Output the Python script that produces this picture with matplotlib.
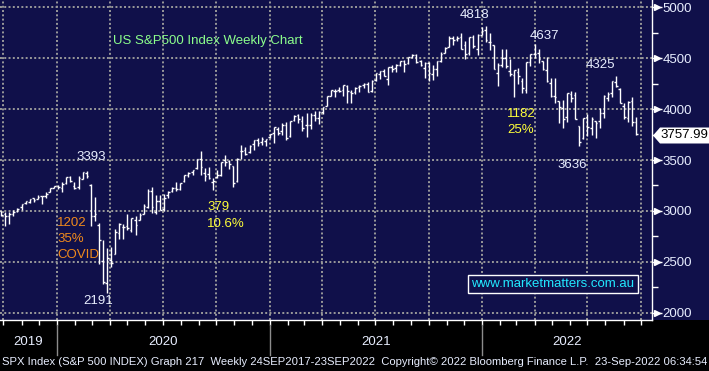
import numpy as np
import pandas as pd
import matplotlib
matplotlib.use("Agg")
import matplotlib.pyplot as plt
import matplotlib.dates as mdates
from matplotlib.patches import Rectangle, Polygon
from matplotlib.transforms import blended_transform_factory, offset_copy
from matplotlib.ticker import MultipleLocator

# weekly bars (Friday week ends), S&P 500
weeks = pd.date_range("2019-09-27", "2022-09-23", freq="W-FRI")
opens = [2996, 2967, 2952, 2970, 2997, 3036, 3079, 3087, 3123, 3117, 3143, 3142, 3183, 3227,
         3247, 3226, 3271, 3334, 3248, 3235, 3318, 3370, 3257, 2954, 2863, 2509, 2290, 2514,
         2578, 2782, 2846, 2855, 2816, 2915, 2913, 2969, 3038, 3199, 2994, 3095, 3018, 3155,
         3191, 3224, 3219, 3289, 3357, 3380, 3419, 3507, 3371, 3363, 3285, 3334, 3350, 3500,
         3493, 3441, 3296, 3584, 3600, 3579, 3654, 3699, 3675, 3684, 3723,
         3764, 3803, 3782, 3842, 3732, 3892, 3939, 3885, 3843, 3844, 3943, 3916, 3970, 4034,
         4124, 4179, 4185, 4192, 4228, 4169, 4168, 4217, 4232, 4248, 4174, 4284, 4344, 4372,
         4296, 4410, 4406, 4437, 4477, 4450, 4513, 4536, 4474, 4403, 4450, 4348, 4391, 4471,
         4553, 4610, 4701, 4689, 4712, 4628, 4548, 4710, 4587, 4733,
         4778, 4656, 4632, 4357, 4432, 4505, 4377, 4333, 4363, 4276, 4188, 4462, 4541, 4547,
         4474, 4385, 4253, 4130, 4082, 4013, 3927, 4151, 4135, 3838, 3715, 3920, 3815, 3880,
         3883, 3965, 4113, 4155, 4270, 4195, 4034, 3909, 4084, 3870]
highs = [3002, 2992, 2993, 3009, 3027, 3066, 3098, 3121, 3128, 3154, 3150, 3182, 3226, 3248,
         3258, 3282, 3330, 3338, 3285, 3342, 3385, 3394, 3260, 3137, 2883, 2711, 2637, 2641,
         2818, 2879, 2868, 2965, 2933, 2945, 2981, 3068, 3211, 3233, 3156, 3155, 3165, 3198,
         3238, 3280, 3272, 3352, 3387, 3399, 3509, 3588, 3425, 3429, 3320, 3397, 3483, 3550,
         3502, 3441, 3521, 3646, 3628, 3645, 3699, 3712, 3727, 3711, 3760,
         3827, 3823, 3861, 3870, 3887, 3938, 3950, 3928, 3961, 3960, 3983, 3979, 4018, 4130,
         4191, 4195, 4218, 4238, 4236, 4188, 4219, 4234, 4255, 4262, 4287, 4356, 4372, 4393,
         4415, 4429, 4440, 4469, 4480, 4511, 4546, 4537, 4486, 4466, 4466, 4429, 4475, 4559,
         4608, 4718, 4714, 4718, 4744, 4673, 4713, 4731, 4740, 4808,
         4819, 4749, 4632, 4454, 4595, 4590, 4490, 4385, 4402, 4302, 4465, 4546, 4637, 4593,
         4474, 4513, 4308, 4307, 4082, 4090, 4158, 4178, 4169, 3838, 3912, 3951, 3918, 3880,
         4013, 4140, 4167, 4281, 4325, 4204, 4062, 4076, 4120, 3921]
lows = [2946, 2856, 2874, 2952, 2991, 3005, 3066, 3079, 3091, 3113, 3070, 3124, 3183, 3222,
        3213, 3181, 3264, 3280, 3214, 3214, 3316, 3328, 2856, 2902, 2479, 2281, 2192, 2448,
        2578, 2721, 2727, 2815, 2797, 2767, 2910, 2969, 3032, 2984, 2965, 3004, 3001, 3128,
        3184, 3200, 3204, 3284, 3335, 3354, 3411, 3350, 3294, 3314, 3209, 3323, 3345, 3441,
        3413, 3234, 3279, 3512, 3551, 3570, 3594, 3633, 3648, 3636, 3716,
        3663, 3750, 3750, 3694, 3725, 3885, 3866, 3789, 3723, 3802, 3886, 3853, 3955, 4034,
        4124, 4118, 4164, 4129, 4057, 4061, 4150, 4168, 4210, 4165, 4165, 4272, 4300, 4321,
        4233, 4360, 4367, 4423, 4368, 4443, 4507, 4457, 4421, 4306, 4278, 4289, 4322, 4465,
        4552, 4606, 4630, 4672, 4586, 4495, 4531, 4600, 4531, 4733,
        4662, 4582, 4395, 4223, 4415, 4401, 4329, 4115, 4250, 4157, 4161, 4425, 4507, 4451,
        4381, 4267, 4115, 4062, 3859, 3810, 3875, 4074, 3900, 3637, 3705, 3738, 3742, 3721,
        3818, 3913, 4080, 4115, 4219, 4057, 3907, 3873, 3837, 3750]
closes = [2962, 2952, 2970, 2986, 3023, 3067, 3093, 3120, 3110, 3141, 3146, 3169, 3221, 3240,
          3235, 3265, 3330, 3295, 3226, 3328, 3380, 3338, 2954, 2972, 2711, 2305, 2541, 2489,
          2790, 2875, 2837, 2831, 2930, 2864, 2955, 3044, 3194, 3041, 3098, 3009, 3130, 3185,
          3225, 3216, 3271, 3351, 3373, 3397, 3508, 3427, 3341, 3320, 3298, 3348, 3477, 3483,
          3465, 3270, 3509, 3585, 3557, 3638, 3699, 3663, 3709, 3703, 3756,
          3825, 3768, 3841, 3714, 3887, 3935, 3907, 3811, 3842, 3943, 3913, 3975, 4020, 4129,
          4185, 4180, 4181, 4233, 4174, 4156, 4204, 4230, 4247, 4166, 4281, 4352, 4370, 4327,
          4412, 4395, 4437, 4468, 4442, 4509, 4535, 4459, 4433, 4455, 4357, 4391, 4471, 4545,
          4605, 4698, 4683, 4698, 4595, 4538, 4712, 4621, 4726, 4766,
          4677, 4663, 4398, 4432, 4501, 4419, 4349, 4385, 4329, 4204, 4463, 4543, 4546, 4488,
          4393, 4272, 4132, 4123, 4024, 3901, 4158, 4109, 3901, 3675, 3912, 3825, 3899, 3863,
          3962, 4130, 4145, 4280, 4228, 4058, 3924, 4067, 3873, 3758]
last_price = "3757.99"
years = ["2019", "2020", "2021", "2022"]
yticks = [2000, 2500, 3000, 3500, 4000, 4500, 5000]
footer = ("SPX Index (S&P 500 INDEX) Graph 217  Weekly 24SEP2017-23SEP2022  "
          "Copyright\u00a9 2022 Bloomberg Finance L.P.  23-Sep-2022 06:34:54")

NAVY = "#10104a"
TXT = "#e8eeff"
plt.rcParams["font.family"] = ["Liberation Sans", "DejaVu Sans"]

fig = plt.figure(figsize=(7.09, 3.71), dpi=100, facecolor="black")
fig.patches.append(Rectangle((0, 51 / 371), 1, 320 / 371, transform=fig.transFigure,
                             facecolor=NAVY, edgecolor="none", zorder=-10))
ax = fig.add_axes([0, 51 / 371, 652 / 709, 320 / 371])
ax.set_facecolor(NAVY)

x = mdates.date2num(weeks)
ax.vlines(x, lows, highs, color="white", lw=1.0, zorder=3)
ax.hlines(opens, x - 2.8, x, color="white", lw=1.0, zorder=3)
ax.hlines(closes, x, x + 2.8, color="white", lw=1.0, zorder=3)

ax.set_xlim(mdates.date2num(pd.Timestamp("2019-09-25")), mdates.date2num(pd.Timestamp("2022-10-20")))
ax.set_ylim(1928, 5072)

ax.xaxis.set_major_locator(mdates.MonthLocator(bymonth=[1, 4, 7, 10]))
ax.xaxis.set_minor_locator(mdates.MonthLocator())
ax.yaxis.set_major_locator(MultipleLocator(500))
ax.yaxis.set_minor_locator(MultipleLocator(250))
ax.grid(which="major", color="#9a9a9a", linestyle=(0, (1, 1.2)), linewidth=1.4, zorder=1)

ax.tick_params(axis="x", which="both", direction="out", length=3.5, width=1, colors="white",
               labelbottom=False)
ax.yaxis.tick_right()
ax.tick_params(axis="y", which="major", direction="out", length=7, width=1, colors="white",
               labelcolor=TXT, labelsize=9.5, pad=0.5, left=False, right=True)
ax.tick_params(axis="y", which="minor", direction="out", length=4, width=1, colors="white",
               left=False, right=True)
ax.set_yticks(yticks)
for s in ["top", "left"]:
    ax.spines[s].set_visible(False)
for s in ["right", "bottom"]:
    ax.spines[s].set_color("white")
    ax.spines[s].set_linewidth(1)

# arrow heads on major y ticks
yt = blended_transform_factory(ax.transAxes, ax.transData)
ax.plot(np.ones(len(yticks)), yticks, transform=offset_copy(yt, fig, x=5, units="dots"),
        ls="none", marker=">", ms=5, color="white", clip_on=False)

# year separators + labels below the axis
bt = blended_transform_factory(ax.transData, ax.transAxes)
xl = ax.get_xlim()
bounds = [xl[0]] + [mdates.date2num(pd.Timestamp(f"{y}-01-01")) for y in years[1:]] + [xl[1]]
for i, y in enumerate(years):
    if i > 0:
        ax.plot([bounds[i]] * 2, [-0.016, -0.11], transform=bt, color="#8c8c8c", lw=1,
                clip_on=False)
    ax.text((bounds[i] + bounds[i + 1]) / 2, -0.069, y, transform=bt, ha="center", va="center",
            color=TXT, fontsize=9.5)

# footer: shrink until it spans the figure width like the reference
ft = fig.text(2 / 709, 1 - 362 / 371, footer, ha="left", va="center", color=TXT, fontsize=9)
r = fig.canvas.get_renderer()
w = ft.get_window_extent(r).width
ft.set_fontsize(9 * 703 / w)

# annotations (pixel positions of the reference, converted to axes fractions)
def P(px, py):
    return px / 652, 1 - py / 320

labels = [("US S&P500 Index Weekly Chart", 113, 41, "#8cff8c", "left"),
          ("3393", 91, 157, TXT, "center"),
          ("1202", 57, 223, "#f08a1c", "left"),
          ("35%", 57, 239, "#f08a1c", "left"),
          ("COVID", 57, 255, "#f08a1c", "left"),
          ("2191", 98, 301, TXT, "center"),
          ("379", 207, 207, "#ffff3a", "left"),
          ("10.6%", 207, 224, "#ffff3a", "left"),
          ("4818", 475, 15, TXT, "center"),
          ("4637", 544, 36, TXT, "center"),
          ("1182", 507, 114, "#ffff3a", "left"),
          ("25%", 507, 130, "#ffff3a", "left"),
          ("4325", 600, 65, TXT, "center"),
          ("3636", 572, 165, TXT, "center")]
for t, px, py, c, ha in labels:
    ax.text(*P(px, py), t, transform=ax.transAxes, color=c, fontsize=9.5, ha=ha, va="center",
            zorder=5)

ax.text(*P(553, 284), "www.marketmatters.com.au", transform=ax.transAxes, color="#22e8ff",
        fontsize=9.5, ha="center", va="center", zorder=5,
        bbox=dict(boxstyle="square,pad=0.25", facecolor=NAVY, edgecolor="white", lw=1))

# last price tag
def F(px, py):
    return px / 709, 1 - py / 371

fig.patches.append(Polygon([F(653, 135.5), F(660, 127.5), F(709, 127.5), F(709, 143.5),
                            F(660, 143.5)], closed=True, transform=fig.transFigure,
                           facecolor="white", edgecolor="none", zorder=5))
fig.text(*F(684, 135.5), last_price, ha="center", va="center", color="black", fontsize=9.5,
         zorder=6)

fig.savefig("out.png", dpi=100, facecolor="black")
print("saved out.png")
